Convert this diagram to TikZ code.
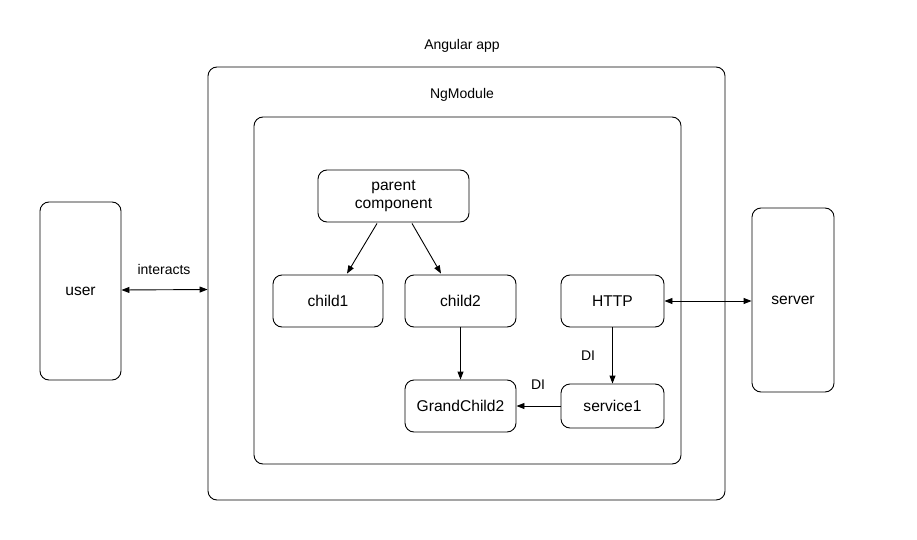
\documentclass[tikz,border=0pt]{standalone}
\usepackage{fontspec}
\setmainfont{Liberation Sans}
\usetikzlibrary{arrows.meta,calc}
\begin{document}
\begin{tikzpicture}[x=1pt,y=-1pt,
  box/.style={draw,rounded corners=9pt,line width=0.9pt,inner sep=0pt,align=center,font=\fontsize{15.6}{17.5}\selectfont},
  lbl/.style={font=\fontsize{14}{16}\selectfont,inner sep=0pt},
  arr/.style={line width=0.9pt,-{Triangle[length=8pt,width=6pt]}},
  darr/.style={line width=0.9pt,{Triangle[length=8pt,width=6pt]}-{Triangle[length=8pt,width=6pt]}}]
\useasboundingbox (0,0) rectangle (917,540);
\node[box,minimum width=517,minimum height=433] (app) at (466.5,283.5) {};
\node[lbl] (applbl) at (462,46) {Angular app};
\node[box,minimum width=427,minimum height=347] (mod) at (467.5,290.5) {};
\node[lbl] (modlbl) at (462,95) {NgModule};
\node[box,minimum width=81,minimum height=178] (user) at (80.5,291) {user};
\node[box,minimum width=82,minimum height=184] (server) at (793,300) {server};
\node[box,minimum width=151,minimum height=52] (parent) at (393.5,196) {parent\\component};
\node[box,minimum width=110,minimum height=52] (child1) at (328,301) {child1};
\node[box,minimum width=111,minimum height=52] (child2) at (460.5,301) {child2};
\node[box,minimum width=103,minimum height=52] (http) at (612.5,301) {HTTP};
\node[box,minimum width=111,minimum height=52] (gc2) at (460.5,406) {GrandChild2};
\node[box,minimum width=103,minimum height=44] (svc) at (612.5,406) {service1};
\draw[darr] (user.east|-0,290) -- (app.west|-0,289.5);
\node[lbl] (inter) at (164,269) {interacts};
\draw[arr] ($(parent.south)+(-16.5,1)$) -- ($(child1.north)+(19,-1)$);
\draw[arr] ($(parent.south)+(18.5,1)$) -- ($(child2.north)+(-19.5,-1)$);
\draw[arr] (child2) -- (gc2);
\draw[arr] (http) -- (svc);
\draw[arr] (svc) -- (gc2);
\draw[darr] (http.east) -- (server.west|-http.east);
\node[lbl] (di1) at (588,356) {DI};
\node[lbl] (di2) at (538,385) {DI};
\end{tikzpicture}
\end{document}
